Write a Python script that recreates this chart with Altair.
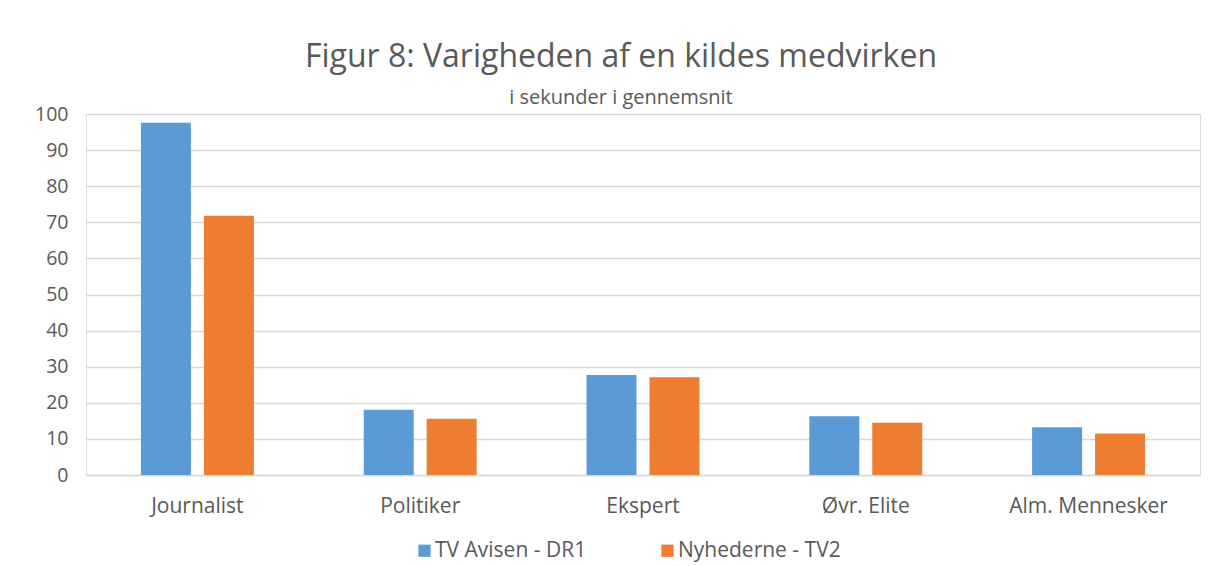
import altair as alt
import pandas as pd

categories = ["Journalist", "Politiker", "Ekspert", "Øvr. Elite", "Alm. Mennesker"]
series_names = ["TV Avisen - DR1", "Nyhederne - TV2"]
dr1_values = [97.6, 18.1, 27.7, 16.3, 13.2]
tv2_values = [71.8, 15.6, 27.1, 14.5, 11.5]
colors = ["#5B9BD5", "#ED7D31"]

rows = []
for c, a, b in zip(categories, dr1_values, tv2_values):
    rows.append({"kategori": c, "serie": series_names[0], "værdi": a})
    rows.append({"kategori": c, "serie": series_names[1], "værdi": b})
df = pd.DataFrame(rows)

FONT = "Open Sans"
GREY = "#595959"

chart = alt.Chart(df).mark_bar().encode(
    x=alt.X("kategori:N", sort=categories,
            scale=alt.Scale(paddingInner=0.493, paddingOuter=0.2465),
            axis=alt.Axis(title=None, labelAngle=0, labelFontSize=21, labelColor=GREY,
                          labelFont=FONT, ticks=False, domain=True, domainColor="#d9d9d9",
                          domainWidth=1.5, labelPadding=20)),
    xOffset=alt.XOffset("serie:N", sort=series_names,
                        scale=alt.Scale(paddingInner=0.206, paddingOuter=0)),
    y=alt.Y("værdi:Q", scale=alt.Scale(domain=[0, 100], nice=False),
            axis=alt.Axis(title=None, values=list(range(0, 101, 10)), labelFontSize=19.5,
                          labelColor=GREY, labelFont=FONT, ticks=False, domain=False,
                          gridColor="#d9d9d9", gridWidth=1.5, labelPadding=18)),
    color=alt.Color("serie:N", sort=series_names,
                    scale=alt.Scale(domain=series_names, range=colors),
                    legend=alt.Legend(title=None, orient="none", direction="horizontal",
                                      legendX=328, legendY=426,
                                      symbolType="square", symbolSize=150,
                                      symbolStrokeWidth=0, labelFontSize=21,
                                      labelColor=GREY, labelFont=FONT, columnPadding=70,
                                      labelOffset=0, labelLimit=400)),
).properties(
    width=1114,
    height=361,
    title=alt.TitleParams(
        text="Figur 8: Varigheden af en kildes medvirken",
        subtitle="i sekunder i gennemsnit",
        fontSize=32, font=FONT, fontWeight="normal", color=GREY,
        subtitleFontSize=20, subtitleFont=FONT, subtitleColor=GREY,
        anchor="middle", offset=-5, subtitlePadding=14, dx=-22,
    ),
    autosize=alt.AutoSizeParams(type="none"),
    padding={"left": 78, "top": 106, "right": 20, "bottom": 100},
).configure_view(stroke=None).configure(background="white")

chart.save("out.html", embed_options={"renderer": "svg", "actions": False})
